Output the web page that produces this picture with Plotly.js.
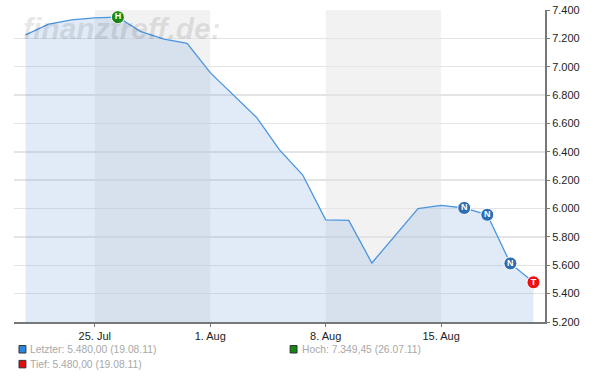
<!DOCTYPE html>
<html>
<head>
<meta charset="utf-8">
<script src="https://cdn.plot.ly/plotly-3.0.1.min.js"></script>
<style>html,body{margin:0;padding:0;background:#fff;}#chart{width:600px;height:392px;}</style>
</head>
<body>
<div id="chart"></div>
<script>
// ---- data ----
const dates = ['20.07.11','21.07.11','22.07.11','25.07.11','26.07.11','27.07.11','28.07.11','29.07.11',
  '01.08.11','02.08.11','03.08.11','04.08.11','05.08.11','08.08.11','09.08.11','10.08.11','11.08.11',
  '12.08.11','15.08.11','16.08.11','17.08.11','18.08.11','19.08.11'];
const prices = [7224, 7301, 7330, 7345, 7349.45, 7247, 7194, 7165,
  6958, 6802, 6644, 6414, 6238, 5920, 5916, 5616, 5808,
  5999, 6022, 6004, 5956, 5613, 5480];
const markerDates = ['26.07.11','16.08.11','17.08.11','18.08.11','19.08.11'];
const markerLabels = ['H','N','N','N','T'];
const markerColors = ['#1a8a1a','#2e6cb3','#2e6cb3','#2e6cb3','#ee1111'];
const tickDates = ['25.07.11','01.08.11','08.08.11','15.08.11'];
const tickLabels = ['25. Jul','1. Aug','8. Aug','15. Aug'];
const bandStarts = ['25.07.11','08.08.11'];
const bandEnds = ['01.08.11','15.08.11'];
const legendItems = ['Letzter: 5.480,00 (19.08.11)','Hoch: 7.349,45 (26.07.11)','Tief: 5.480,00 (19.08.11)'];
const legendColors = ['#2a88e0','#118811','#e01010'];
const watermark = 'finanztreff.de:';

const markerY = markerDates.map(d => prices[dates.indexOf(d)]);

const traces = [
  {
    x: dates, y: prices, type: 'scatter', mode: 'lines',
    line: {color: '#4a95e0', width: 1.3},
    fill: 'tozeroy', fillcolor: 'rgba(120,165,220,0.22)',
    hoverinfo: 'skip'
  },
  {
    x: markerDates, y: markerY, type: 'scatter', mode: 'markers+text',
    text: markerLabels, textposition: 'middle center',
    textfont: {family: 'Liberation Sans, Arial', size: 9, color: '#ffffff', weight: 'bold'},
    marker: {size: 13, color: markerColors, line: {color: '#ffffff', width: 1}},
    hoverinfo: 'skip'
  }
];

const shapes = bandStarts.map((s, i) => ({
  type: 'rect', xref: 'x', yref: 'paper', x0: s, x1: bandEnds[i], y0: 0, y1: 1,
  fillcolor: '#f2f2f2', line: {width: 0}, layer: 'below'
}));

// legend squares (paper coords)
const sqPos = [[0.0094, -0.0994], [0.520, -0.0994], [0.0094, -0.147]];
const txtPos = [[0.027, -0.088], [0.5395, -0.088], [0.027, -0.136]];
sqPos.forEach((p, i) => {
  shapes.push({type: 'rect', xref: 'paper', yref: 'paper', x0: p[0], x1: p[0] + 0.013, y0: p[1], y1: p[1] + 0.024,
    fillcolor: legendColors[i], line: {color: '#333', width: 1}});
});

const annotations = legendItems.map((t, i) => ({
  text: t, xref: 'paper', yref: 'paper', x: txtPos[i][0], y: txtPos[i][1],
  xanchor: 'left', yanchor: 'middle', showarrow: false,
  font: {family: 'Liberation Sans, Arial', size: 10.3, color: '#a8a8a8'}
}));
annotations.push({
  text: '<i><b>' + watermark + '</b></i>', xref: 'paper', yref: 'paper', x: 0.013, y: 0.942,
  xanchor: 'left', yanchor: 'middle', showarrow: false,
  font: {family: 'Liberation Sans, Arial', size: 30, color: 'rgba(0,0,0,0.11)'}
});

const layout = {
  width: 600, height: 392,
  margin: {l: 14, r: 55, t: 10, b: 70},
  paper_bgcolor: '#ffffff', plot_bgcolor: '#ffffff',
  separators: ',.',
  showlegend: false,
  font: {family: 'Liberation Sans, Arial', size: 11, color: '#222'},
  xaxis: {
    type: 'category', range: [-0.5, dates.length - 0.5],
    tickvals: tickDates, ticktext: tickLabels,
    showgrid: false, zeroline: false,
    showline: true, linecolor: '#777', linewidth: 2,
    ticks: 'outside', ticklen: 3, tickcolor: '#777', tickwidth: 1,
    tickfont: {size: 11, color: '#222'}
  },
  yaxis: {
    side: 'right', range: [5200, 7400], dtick: 200, tick0: 5200,
    tickformat: ',d',
    showgrid: true, gridcolor: '#e4e4e4', gridwidth: 1.5,
    zeroline: false, showline: true, linecolor: '#777', linewidth: 2,
    ticks: 'outside', ticklen: 3, tickcolor: '#777',
    tickfont: {size: 11, color: '#222'}
  },
  shapes: shapes,
  annotations: annotations
};

Plotly.newPlot('chart', traces, layout, {staticPlot: true, displayModeBar: false});
</script>
</body>
</html>
